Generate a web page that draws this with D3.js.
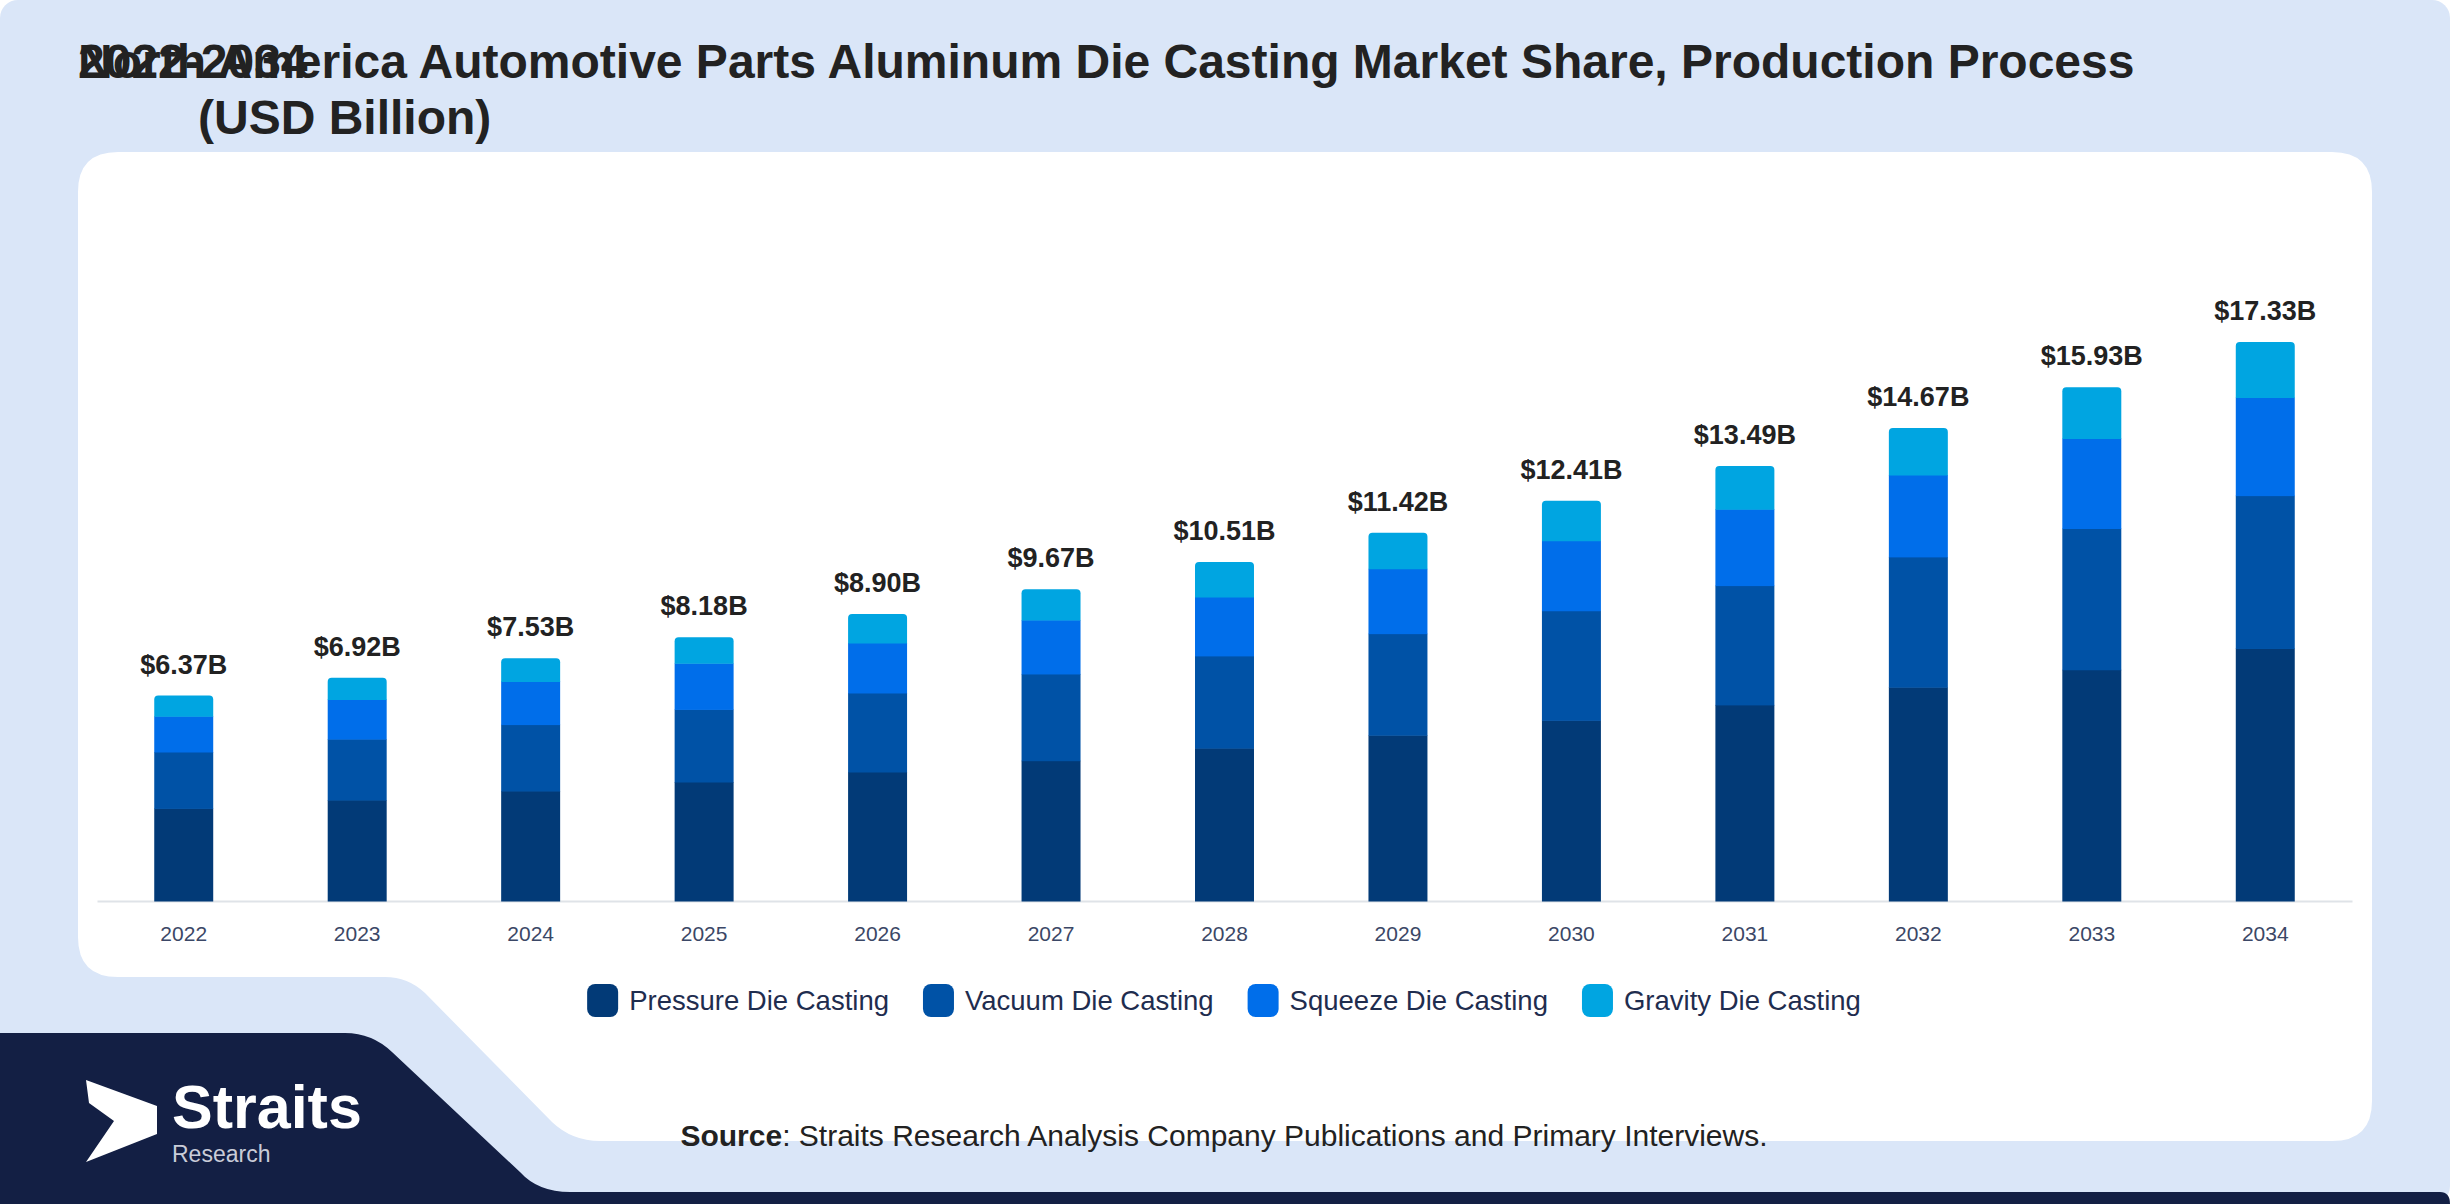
<!DOCTYPE html>
<html>
<head>
<meta charset="utf-8">
<script src="https://cdn.jsdelivr.net/npm/d3@7"></script>
<style>
  body { margin: 0; background: #ffffff; }
  text { font-family: "Liberation Sans", Arial, sans-serif; }
</style>
</head>
<body>
<div id="chart"></div>
<script>
// data (USD billion)
var years = ["2022", "2023", "2024", "2025", "2026", "2027", "2028", "2029", "2030", "2031", "2032", "2033", "2034"];
var seriesNames = ["Pressure Die Casting", "Vacuum Die Casting", "Squeeze Die Casting", "Gravity Die Casting"];
var pressure = [2.87, 3.13, 3.41, 3.69, 4.00, 4.35, 4.74, 5.14, 5.60, 6.08, 6.63, 7.17, 7.83];
var vacuum   = [1.75, 1.89, 2.06, 2.25, 2.45, 2.69, 2.86, 3.15, 3.40, 3.70, 4.04, 4.38, 4.74];
var squeeze  = [1.11, 1.23, 1.34, 1.43, 1.55, 1.67, 1.83, 2.01, 2.17, 2.37, 2.54, 2.79, 3.04];
var gravity  = [0.64, 0.67, 0.72, 0.81, 0.90, 0.96, 1.08, 1.12, 1.24, 1.34, 1.46, 1.59, 1.72];
var colors = ["#023a77", "#0052a6", "#006eea", "#00a5e1"];

var W = 2450, H = 1204;
var svg = d3.select("#chart")
    .append("svg")
    .attr("width", W)
    .attr("height", H);

// page background
svg.append("rect")
    .attr("x", 0).attr("y", 0)
    .attr("width", W).attr("height", H)
    .attr("rx", 18)
    .attr("fill", "#dae6f8");

// dark band bottom left + bottom edge
svg.append("path")
    .attr("d", "M0,1033 L345,1033 Q372,1033 392,1052 L520,1172 Q538,1192 570,1192 L2440,1192 Q2450,1192 2450,1204 L0,1204 Z")
    .attr("fill", "#131f44");

// white card
svg.append("path")
    .attr("d", "M118,152 L2332,152 Q2372,152 2372,192 L2372,1101 Q2372,1141 2332,1141 L600,1141 Q572,1141 552,1122 L425,993 Q408,977 385,977 L118,977 Q78,977 78,937 L78,192 Q78,152 118,152 Z")
    .attr("fill", "#ffffff");

// title (two texts drawn on top of each other, as in the source)
var title = svg.append("g").attr("fill", "#222222").attr("font-weight", "bold").attr("font-size", 48);
title.append("text").attr("x", 78).attr("y", 78)
    .text("North America Automotive Parts Aluminum Die Casting Market Share, Production Process");
title.append("text").attr("x", 78).attr("y", 78).text("2022-2034");
title.append("text").attr("x", 198).attr("y", 134).text("(USD Billion)");

var table = years.map(function(yr, i) {
    return { year: yr, pressure: pressure[i], vacuum: vacuum[i], squeeze: squeeze[i], gravity: gravity[i] };
});
var keys = ["pressure", "vacuum", "squeeze", "gravity"];
var stacked = d3.stack().keys(keys)(table);

var x = d3.scaleBand()
    .domain(years)
    .range([97, 2352])
    .paddingInner(0.66)
    .paddingOuter(0.33);

var y = d3.scaleLinear()
    .domain([0, 20])
    .range([901, 256]);

// x axis
var xAxis = d3.axisBottom(x).tickSize(0).tickSizeOuter(0).tickPadding(25);
var gx = svg.append("g")
    .attr("transform", "translate(0," + y(0) + ")")
    .call(xAxis);
gx.select(".domain").attr("stroke", "#dfe3e8").attr("stroke-width", 2);
gx.selectAll("text")
    .attr("font-size", 21)
    .attr("font-family", "Liberation Sans, Arial, sans-serif")
    .attr("fill", "#3b4766");

function roundTop(x0, y0, w, h, r) {
    return "M" + x0 + "," + (y0 + h) +
        "V" + (y0 + r) +
        "Q" + x0 + "," + y0 + " " + (x0 + r) + "," + y0 +
        "H" + (x0 + w - r) +
        "Q" + (x0 + w) + "," + y0 + " " + (x0 + w) + "," + (y0 + r) +
        "V" + (y0 + h) + "Z";
}

// bars
stacked.forEach(function(layer, li) {
    var g = svg.append("g").attr("fill", colors[li]);
    if (li < keys.length - 1) {
        g.selectAll("rect")
            .data(layer)
            .enter()
            .append("rect")
            .attr("x", d => x(d.data.year))
            .attr("y", d => y(d[1]))
            .attr("width", x.bandwidth())
            .attr("height", d => y(d[0]) - y(d[1]) + 0.5);
    } else {
        g.selectAll("path")
            .data(layer)
            .enter()
            .append("path")
            .attr("d", d => roundTop(x(d.data.year), y(d[1]), x.bandwidth(), y(d[0]) - y(d[1]) + 0.5, 4));
    }
});

// totals on top
svg.append("g")
    .selectAll("text")
    .data(table)
    .enter()
    .append("text")
    .attr("x", d => x(d.year) + x.bandwidth() / 2)
    .attr("y", d => y(d.pressure + d.vacuum + d.squeeze + d.gravity) - 22)
    .attr("text-anchor", "middle")
    .attr("font-size", 27)
    .attr("font-weight", "bold")
    .attr("fill", "#222222")
    .text(d => "$" + (d.pressure + d.vacuum + d.squeeze + d.gravity).toFixed(2) + "B");

// legend, centred under the plot
var legend = svg.append("g");
var items = legend.selectAll("g")
    .data(seriesNames)
    .enter()
    .append("g");
items.append("rect")
    .attr("y", 984)
    .attr("width", 31)
    .attr("height", 33)
    .attr("rx", 8)
    .attr("fill", (d, i) => colors[i]);
items.append("text")
    .attr("x", 42)
    .attr("y", 1010)
    .attr("font-size", 27.5)
    .attr("fill", "#1f2d4f")
    .text(d => d);
var pos = 0;
items.each(function() {
    d3.select(this).attr("transform", "translate(" + pos + ",0)");
    pos += 42 + this.querySelector("text").getComputedTextLength() + 34;
});
var legendW = pos - 34;
legend.attr("transform", "translate(" + (1224 - legendW / 2) + ",0)");

// source line
var src = svg.append("text")
    .attr("x", 1224)
    .attr("y", 1146)
    .attr("text-anchor", "middle")
    .attr("font-size", 30)
    .attr("fill", "#222222");
src.append("tspan").attr("font-weight", "bold").text("Source");
src.append("tspan").text(": Straits Research Analysis Company Publications and Primary Interviews.");

// logo
svg.append("path")
    .attr("d", "M86,1080 L157,1106 L157,1134 L86,1162 L114,1121 L89,1103 Z")
    .attr("fill", "#ffffff");
svg.append("text")
    .attr("x", 172).attr("y", 1128)
    .attr("font-size", 61)
    .attr("font-weight", "bold")
    .attr("fill", "#ffffff")
    .text("Straits");
svg.append("text")
    .attr("x", 172).attr("y", 1162)
    .attr("font-size", 23)
    .attr("fill", "#c9ccd8")
    .text("Research");
</script>
</body>
</html>
